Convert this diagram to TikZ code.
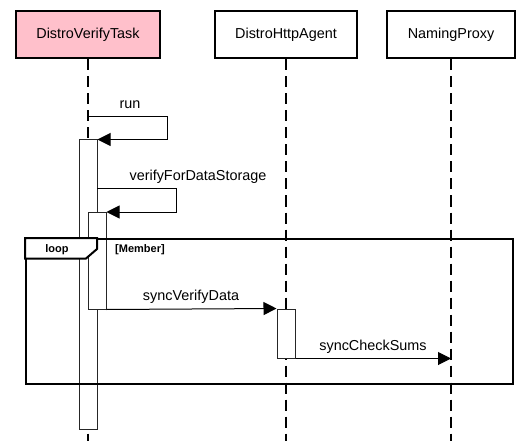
\documentclass[tikz,border=0pt]{standalone}
\usepackage{fontspec}
\setmainfont{Liberation Sans}
\usetikzlibrary{arrows.meta}
\definecolor{actpink}{RGB}{255,192,203}
\begin{document}
\begin{tikzpicture}[x=1pt,y=-1pt,
  actor/.style={draw, line width=2pt, minimum width=#1, minimum height=47pt, inner sep=0pt, font=\fontsize{14.4}{16}\selectfont},
  lifeline/.style={line width=1.1pt, dash pattern=on 11pt off 6pt},
  actbox/.style={draw=black!85, fill=white, line width=1pt, minimum width=18pt, inner sep=0pt},
  msg/.style={line width=1pt, -{Triangle[length=13pt,width=13pt]}},
  selfmsg/.style={line width=1pt, -{Triangle[length=13pt,width=13pt]}},
  lbl/.style={inner sep=0pt, font=\fontsize{14.4}{16}\selectfont},
  framebox/.style={draw, line width=2pt, inner sep=0pt},
  tabtxt/.style={inner sep=0pt, font=\fontsize{11}{13}\selectfont\bfseries}]
\useasboundingbox (0,0) rectangle (529,446);
% actors
\node[actor=144pt, fill=actpink] (p1) at (88,35) {DistroVerifyTask};
\node[actor=142pt, fill=white] (p2) at (286,35) {DistroHttpAgent};
\node[actor=128pt, fill=white] (p3) at (451,35) {NamingProxy};
% lifeline ends
\coordinate (e1) at (88,441);
\coordinate (e2) at (286,441);
\coordinate (e3) at (451,441);
\draw[lifeline] (p1.south) -- (e1);
\draw[lifeline] (p2.south) -- (e2);
\draw[lifeline] (p3.south) -- (e3);
% activation boxes
\node[actbox, minimum height=289pt] (a1) at (88,284.5) {};
\node[actbox, minimum height=96.5pt] (a2) at (97,260.75) {};
\node[actbox, minimum height=49pt] (a3) at (286,333.5) {};
% messages
\coordinate (runS) at (88,117);
\draw[selfmsg] (runS) -- ++(79,0) |- (a1.north east);
\node[lbl] (runL) at (130,105) {run};
\coordinate (verS) at (97,189);
\draw[selfmsg] (verS) -- ++(79,0) |- (a2.north east);
\node[lbl] (verL) at (198,177) {verifyForDataStorage};
\draw[msg] (a2.south east) -- (a3.north west);
\node[lbl] (svdL) at (191,297) {syncVerifyData};
\draw[msg] (a3.south east) -- (a3.south east -| p3);
\node[lbl] (scsL) at (373,347) {syncCheckSums};
% loop frame
\node[framebox, minimum width=487pt, minimum height=145pt] (loopF) at (269.5,311.5) {};
\draw[line width=2pt, fill=white] (loopF.north west) -- ++(72,0) -- ++(0,11) -- ++(-11,9.5) -- ++(-61,0) -- cycle;
\node[tabtxt] (loopL) at (57,250) {loop};
\node[tabtxt] (condL) at (140,250) {[Member]};
\end{tikzpicture}
\end{document}
